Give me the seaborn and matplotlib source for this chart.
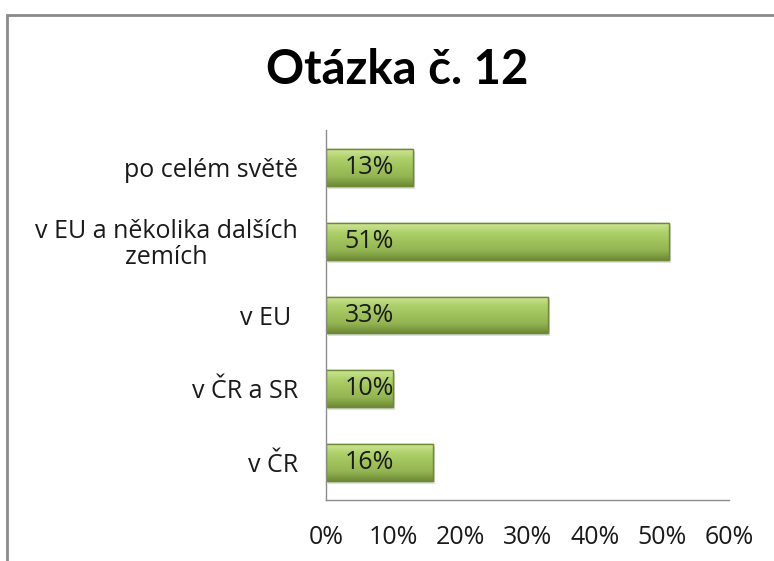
import seaborn as sns
import matplotlib.pyplot as plt
import matplotlib.patches as mpatches
import numpy as np
import pandas as pd

categories = ['po celém světě', 'v EU a několika dalších\nzemích', 'v EU ', 'v ČR a SR', 'v ČR']
values = [13, 51, 33, 10, 16]
value_labels = ['13%', '51%', '33%', '10%', '16%']
xticks = [0, 10, 20, 30, 40, 50, 60]

sns.set_style('white')
plt.rcParams['font.family'] = ['Open Sans', 'DejaVu Sans']

df = pd.DataFrame({'cat': categories, 'val': values})

fig = plt.figure(figsize=(7.74, 5.61), dpi=100)
ax = fig.add_axes([0.421, 0.109, 0.521, 0.659])

sns.barplot(data=df, x='val', y='cat', color='#9bbb59', width=0.5,
            edgecolor='#6f8a36', linewidth=1, ax=ax, saturation=1)

# bevel-ish gradient on each bar, clipped to the bar itself
grad = np.linspace(0, 1, 64).reshape(-1, 1)
cmap = plt.matplotlib.colors.LinearSegmentedColormap.from_list(
    'bev', ['#cfe596', '#add06a', '#a0c25c', '#93b452', '#6f8a36'])
for p in ax.patches:
    x0, y0 = p.get_x(), p.get_y()
    w, h = p.get_width(), p.get_height()
    # soft shadow
    ax.add_patch(mpatches.Rectangle((x0 + 0.3, y0 + 0.04), w, h, color='#000000',
                                    alpha=0.12, zorder=p.get_zorder() - 0.5, lw=0))
    im = ax.imshow(grad, extent=(x0, x0 + w, y0 + h, y0), cmap=cmap, aspect='auto',
                   zorder=p.get_zorder() + 0.1, origin='upper')
    im.set_clip_path(p)
    ax.add_patch(mpatches.Rectangle((x0, y0), w, h, fill=False, ec='#6f8a36', lw=1,
                                    zorder=p.get_zorder() + 0.2))

for i, (v, lab) in enumerate(zip(values, value_labels)):
    ax.text(2.8, i, lab, va='center', ha='left', fontsize=18, color='#1a1a1a', zorder=5)

ax.set_xlim(0, 60)
ax.set_ylim(4.5, -0.5)
ax.set_xticks(xticks)
ax.set_xticklabels([f'{t}%' for t in xticks], fontsize=18, color='#1a1a1a')
ax.set_yticks(range(len(categories)))
ax.set_yticklabels(categories, fontsize=18, color='#1a1a1a', multialignment='center',
                   linespacing=1.05)
ax.set_xlabel('')
ax.set_ylabel('')

# ticks at category boundaries, like the spreadsheet chart
ax.set_yticks(np.arange(-0.5, 5, 1), minor=True)
ax.tick_params(axis='y', which='major', length=0, pad=20)
ax.tick_params(axis='y', which='minor', length=6, color='#8c8c8c', width=1, direction='out')
ax.tick_params(axis='x', which='major', length=6, color='#8c8c8c', width=1, direction='out', pad=12)

for s in ['top', 'right']:
    ax.spines[s].set_visible(False)
for s in ['left', 'bottom']:
    ax.spines[s].set_color('#8c8c8c')
    ax.spines[s].set_linewidth(1)

fig.suptitle('Otázka č. 12', fontsize=34, fontweight='bold', y=0.915, x=0.513, color='black',
             family=['Lato', 'DejaVu Sans'])

fig.add_artist(mpatches.Rectangle((0.009, -0.05), 1.1, 0.05 + 0.973, transform=fig.transFigure,
                                  fill=False, ec='#8a8a8a', lw=2))

fig.savefig('out.png', dpi=100)
